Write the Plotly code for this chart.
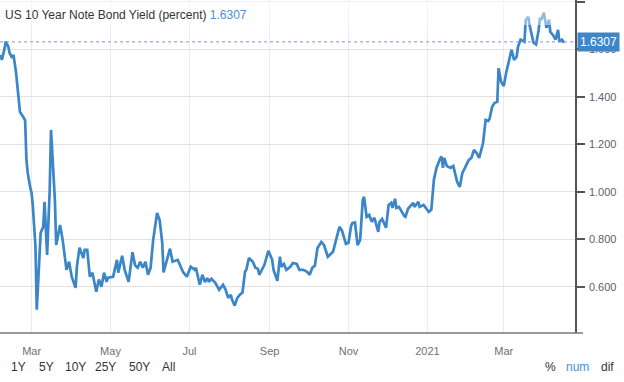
import plotly.graph_objects as go

dates = [
    "2020-02-06", "2020-02-07", "2020-02-09", "2020-02-10", "2020-02-12", "2020-02-13", "2020-02-15", "2020-02-16",
    "2020-02-18", "2020-02-20", "2020-02-21", "2020-02-24", "2020-02-25", "2020-02-26", "2020-02-27", "2020-02-29",
    "2020-03-01", "2020-03-02", "2020-03-04", "2020-03-05", "2020-03-07", "2020-03-08", "2020-03-10", "2020-03-11",
    "2020-03-13", "2020-03-15", "2020-03-16", "2020-03-17", "2020-03-19", "2020-03-20", "2020-03-23", "2020-03-25",
    "2020-03-28", "2020-03-30", "2020-04-01", "2020-04-04", "2020-04-05", "2020-04-07", "2020-04-10", "2020-04-11",
    "2020-04-13", "2020-04-15", "2020-04-17", "2020-04-20", "2020-04-22", "2020-04-24", "2020-04-26", "2020-04-28",
    "2020-04-29", "2020-05-03", "2020-05-06", "2020-05-07", "2020-05-10", "2020-05-12", "2020-05-15", "2020-05-18",
    "2020-05-20", "2020-05-22", "2020-05-24", "2020-05-26", "2020-05-28", "2020-05-30", "2020-06-01", "2020-06-03",
    "2020-06-06", "2020-06-08", "2020-06-10", "2020-06-11", "2020-06-13", "2020-06-16", "2020-06-18", "2020-06-22",
    "2020-06-26", "2020-06-29", "2020-07-02", "2020-07-05", "2020-07-06", "2020-07-09", "2020-07-11", "2020-07-13",
    "2020-07-15", "2020-07-16", "2020-07-18", "2020-07-21", "2020-07-24", "2020-07-27", "2020-07-29", "2020-07-31",
    "2020-08-02", "2020-08-03", "2020-08-05", "2020-08-07", "2020-08-09", "2020-08-11", "2020-08-13", "2020-08-14",
    "2020-08-16", "2020-08-19", "2020-08-21", "2020-08-23", "2020-08-24", "2020-08-27", "2020-08-28", "2020-08-31",
    "2020-09-03", "2020-09-04", "2020-09-07", "2020-09-09", "2020-09-10", "2020-09-12", "2020-09-14", "2020-09-17",
    "2020-09-19", "2020-09-22", "2020-09-24", "2020-09-27", "2020-09-30", "2020-10-02", "2020-10-04", "2020-10-06",
    "2020-10-08", "2020-10-11", "2020-10-13", "2020-10-15", "2020-10-16", "2020-10-20", "2020-10-23", "2020-10-25",
    "2020-10-27", "2020-10-30", "2020-11-01", "2020-11-03", "2020-11-04", "2020-11-06", "2020-11-08", "2020-11-10",
    "2020-11-12", "2020-11-13", "2020-11-15", "2020-11-17", "2020-11-19", "2020-11-21", "2020-11-24", "2020-11-25",
    "2020-11-27", "2020-11-30", "2020-12-02", "2020-12-04", "2020-12-05", "2020-12-07", "2020-12-08", "2020-12-10",
    "2020-12-14", "2020-12-15", "2020-12-17", "2020-12-21", "2020-12-22", "2020-12-25", "2020-12-26", "2020-12-29",
    "2021-01-02", "2021-01-04", "2021-01-06", "2021-01-08", "2021-01-11", "2021-01-12", "2021-01-13", "2021-01-14",
    "2021-01-16", "2021-01-19", "2021-01-21", "2021-01-22", "2021-01-24", "2021-01-26", "2021-01-28", "2021-01-30",
    "2021-02-02", "2021-02-04", "2021-02-06", "2021-02-08", "2021-02-10", "2021-02-13", "2021-02-15", "2021-02-17",
    "2021-02-18", "2021-02-20", "2021-02-22", "2021-02-24", "2021-02-25", "2021-02-27", "2021-03-01", "2021-03-03",
    "2021-03-05", "2021-03-07", "2021-03-09", "2021-03-11", "2021-03-12", "2021-03-14", "2021-03-17", "2021-03-18",
    "2021-03-20", "2021-03-21", "2021-03-23", "2021-03-24", "2021-03-26", "2021-03-28", "2021-03-29", "2021-03-30",
    "2021-04-01", "2021-04-03", "2021-04-05", "2021-04-06", "2021-04-08", "2021-04-10", "2021-04-12", "2021-04-13",
    "2021-04-15", "2021-04-16", "2021-04-17",
]

yields = [
    1.576, 1.555, 1.600, 1.632, 1.610, 1.584, 1.563, 1.576,
    1.500, 1.386, 1.336, 1.310, 1.300, 1.134, 1.079, 1.016,
    0.995, 0.936, 0.768, 0.503, 0.743, 0.827, 0.852, 0.957,
    0.734, 1.008, 1.260, 1.163, 0.966, 0.776, 0.860, 0.797,
    0.671, 0.705, 0.642, 0.595, 0.684, 0.764, 0.721, 0.755,
    0.755, 0.642, 0.659, 0.579, 0.630, 0.600, 0.659, 0.620,
    0.638, 0.642, 0.713, 0.659, 0.730, 0.670, 0.620, 0.745,
    0.690, 0.680, 0.705, 0.680, 0.705, 0.650, 0.680, 0.797,
    0.910, 0.880, 0.785, 0.660, 0.705, 0.760, 0.705, 0.713,
    0.663, 0.642, 0.684, 0.671, 0.680, 0.608, 0.650, 0.620,
    0.636, 0.620, 0.633, 0.616, 0.587, 0.608, 0.587, 0.553,
    0.566, 0.545, 0.520, 0.553, 0.566, 0.575, 0.663, 0.671,
    0.721, 0.705, 0.680, 0.675, 0.650, 0.680, 0.692, 0.751,
    0.713, 0.671, 0.625, 0.726, 0.684, 0.696, 0.671, 0.684,
    0.700, 0.696, 0.671, 0.671, 0.663, 0.650, 0.680, 0.688,
    0.763, 0.788, 0.776, 0.743, 0.726, 0.747, 0.810, 0.852,
    0.835, 0.780, 0.785, 0.856, 0.868, 0.870, 0.775, 0.797,
    0.966, 0.978, 0.894, 0.902, 0.873, 0.890, 0.831, 0.873,
    0.885, 0.848, 0.944, 0.953, 0.932, 0.970, 0.932, 0.936,
    0.898, 0.894, 0.928, 0.953, 0.936, 0.957, 0.936, 0.944,
    0.915, 0.924, 1.050, 1.100, 1.142, 1.147, 1.100, 1.142,
    1.108, 1.100, 1.108, 1.083, 1.041, 1.020, 1.079, 1.100,
    1.134, 1.142, 1.176, 1.163, 1.142, 1.205, 1.302, 1.298,
    1.306, 1.357, 1.374, 1.378, 1.520, 1.462, 1.445, 1.504,
    1.557, 1.597, 1.555, 1.568, 1.610, 1.640, 1.631, 1.723,
    1.736, 1.700, 1.652, 1.627, 1.620, 1.681, 1.732, 1.724,
    1.753, 1.690, 1.724, 1.673, 1.660, 1.640, 1.681, 1.631,
    1.640, 1.631, 1.6307,
]

last_value = 1.6307
title_text = "US 10 Year Note Bond Yield (percent)"
x_tick_dates = ["2020-03-01", "2020-05-01", "2020-07-01", "2020-09-01", "2020-11-01", "2021-01-01", "2021-03-01"]
x_tick_labels = ["Mar", "May", "Jul", "Sep", "Nov", "2021", "Mar"]
y_ticks = [0.6, 0.8, 1.0, 1.2, 1.4, 1.6, 1.8]
y_tick_labels = ["0.600", "0.800", "1.000", "1.200", "1.400", "1.600", ""]
range_buttons = ["1Y", "5Y", "10Y", "25Y", "50Y", "All"]
mode_buttons = ["%", "num", "dif"]

LINE = "#3a86c8"
FONT = "Liberation Sans, Arial, sans-serif"
PLOT_W = 575
PLOT_H = 333

fig = go.Figure()
fig.add_trace(go.Scatter(
    x=dates, y=yields, mode="lines",
    line=dict(color=LINE, width=2.7),
    hoverinfo="skip", showlegend=False,
))

fig.update_layout(
    width=624, height=382,
    margin=dict(l=0, r=49, t=0, b=49, autoexpand=False),
    paper_bgcolor="white", plot_bgcolor="white",
    font=dict(family=FONT, size=11, color="#606060"),
    xaxis=dict(
        range=["2020-02-05 13:40", "2021-04-25 02:00"],
        tickvals=x_tick_dates, ticktext=x_tick_labels,
        showgrid=True, gridcolor="#e8ecf3", gridwidth=1,
        showline=False, ticks="", zeroline=False,
        tickfont=dict(size=11, color="#707070"),
        ticklabelstandoff=10, automargin=False,
        fixedrange=True,
    ),
    yaxis=dict(
        side="right", range=[0.405, 1.807],
        tickvals=y_ticks, ticktext=y_tick_labels,
        showgrid=True, gridcolor="#e2e2e2", gridwidth=1,
        showline=True, linecolor="#555555", linewidth=1.5,
        ticks="outside", ticklen=8, tickcolor="#555555", tickwidth=1.5,
        tickfont=dict(size=11, color="#606070"),
        ticklabelstandoff=2,
        zeroline=False, fixedrange=True, automargin=False,
    ),
)

# last value dotted guide line
fig.add_shape(type="line", xref="paper", x0=0, x1=1, yref="y", y0=last_value, y1=last_value,
              line=dict(color="#8c8cf0", width=1, dash="dot"), layer="above")

# translucent header band
fig.add_shape(type="rect", xref="paper", x0=0, x1=1, yref="paper", y0=1 - 25 / PLOT_H, y1=1.0,
              fillcolor="rgba(255,255,255,0.45)", line=dict(width=0), layer="above")

# bottom axis line extending past the y axis
fig.add_shape(type="line", xref="paper", x0=0, x1=583 / PLOT_W, yref="paper", y0=0, y1=0,
              line=dict(color="#777777", width=1.5), layer="above")

# title
fig.add_annotation(
    xref="paper", yref="paper", x=0, y=1, xanchor="left", yanchor="top",
    xshift=3, yshift=-6, showarrow=False,
    text=f"<span style='color:#333333'>{title_text}</span> <span style='color:#4a8fd6'>{last_value:.4f}</span>",
    font=dict(family=FONT, size=12),
)

# last value label box
fig.add_annotation(
    xref="paper", yref="y", x=1, y=last_value, xanchor="left", yanchor="middle",
    xshift=2, showarrow=False, text=f"{last_value:.4f}",
    font=dict(family=FONT, size=12, color="white"),
    bgcolor="#3d87c9", borderpad=2,
)

# range buttons
btn_y = -(367 - PLOT_H) / PLOT_H
btn_x = [18, 46, 75, 105, 139, 168]
for label, px in zip(range_buttons, btn_x):
    fig.add_annotation(xref="paper", yref="paper", x=px / PLOT_W, y=btn_y,
                       xanchor="center", yanchor="middle", showarrow=False, text=label,
                       font=dict(family=FONT, size=12, color="#333333"))

mode_x = [550, 577, 607]
mode_colors = ["#333333", "#4a8fd6", "#333333"]
for label, px, c in zip(mode_buttons, mode_x, mode_colors):
    fig.add_annotation(xref="paper", yref="paper", x=px / PLOT_W, y=btn_y,
                       xanchor="center", yanchor="middle", showarrow=False, text=label,
                       font=dict(family=FONT, size=12, color=c))

fig.write_html("out.html", config={"displayModeBar": False},
               post_script="document.body.style.margin='0';")
